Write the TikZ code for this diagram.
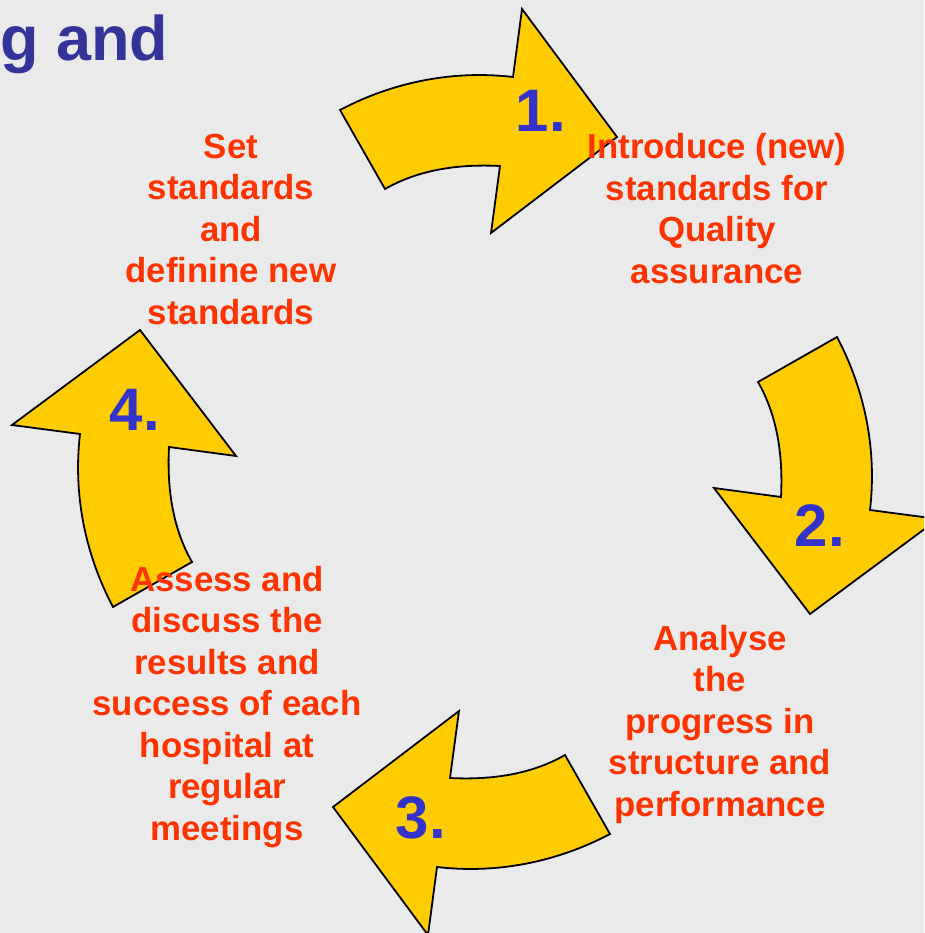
\documentclass[tikz,border=0pt]{standalone}
\usepackage{fontspec}
\setmainfont{Liberation Sans}
\usepackage{xcolor}

\definecolor{slidebg}{HTML}{EAEAEA}
\definecolor{arrowyellow}{HTML}{FFCC00}
\definecolor{steporange}{HTML}{FF3300}
\definecolor{numblue}{HTML}{3333CC}
\definecolor{titleblue}{HTML}{333399}

\begin{document}
\begin{tikzpicture}[x=1pt, y=-1pt,
    cyclearrow/.style={fill=arrowyellow, draw=black, line width=1.8pt},
    steptext/.style={text=steporange, align=center, anchor=north, inner sep=0pt,
      font=\fontsize{34.8}{41.5}\selectfont\bfseries},
    stepnum/.style={text=numblue, inner sep=0pt, font=\fontsize{60}{60}\selectfont\bfseries}]
  \useasboundingbox (0,0) rectangle (924,933);
  \fill[slidebg] (0,0) rectangle (924,933);
  \clip (0,0) rectangle (924,933);
  \coordinate (c) at (475,472);

  \node[anchor=base west, inner sep=0pt, text=titleblue,
    font=\fontsize{63}{63}\selectfont\bfseries] (title) at (0,61) {g and};

  % one curved arrow, turned a quarter round the middle for each step
  \foreach \turn in {0,-90,-180,-270}
    \draw[cyclearrow, shift={(c)}, rotate=\turn]
      (-135,-362) .. controls (-82,-390) and (-22,-402) .. (38,-395)
      -- (47,-463) -- (142,-335) -- (16,-239) -- (25,-306)
      .. controls (-15,-308) and (-55,-303) .. (-90,-283) -- cycle;

  \node[stepnum] (num1) at (541,111) {1.};
  \node[stepnum] (num2) at (820,526) {2.};
  \node[stepnum] (num3) at (421,818) {3.};
  \node[stepnum] (num4) at (135,410) {4.};

  \node[steptext] (set) at (231,133.5) {Set\\standards\\and\\definine new\\standards};
  \node[steptext] (introduce) at (717,133.5) {Introduce (new)\\standards for\\Quality\\assurance};
  \node[steptext] (analyse) at (720,625) {Analyse\\the\\progress in\\structure and\\performance};
  \node[steptext] (assess) at (227,566) {Assess and\\discuss the\\results and\\success of each\\hospital at\\regular\\meetings};
\end{tikzpicture}
\end{document}
